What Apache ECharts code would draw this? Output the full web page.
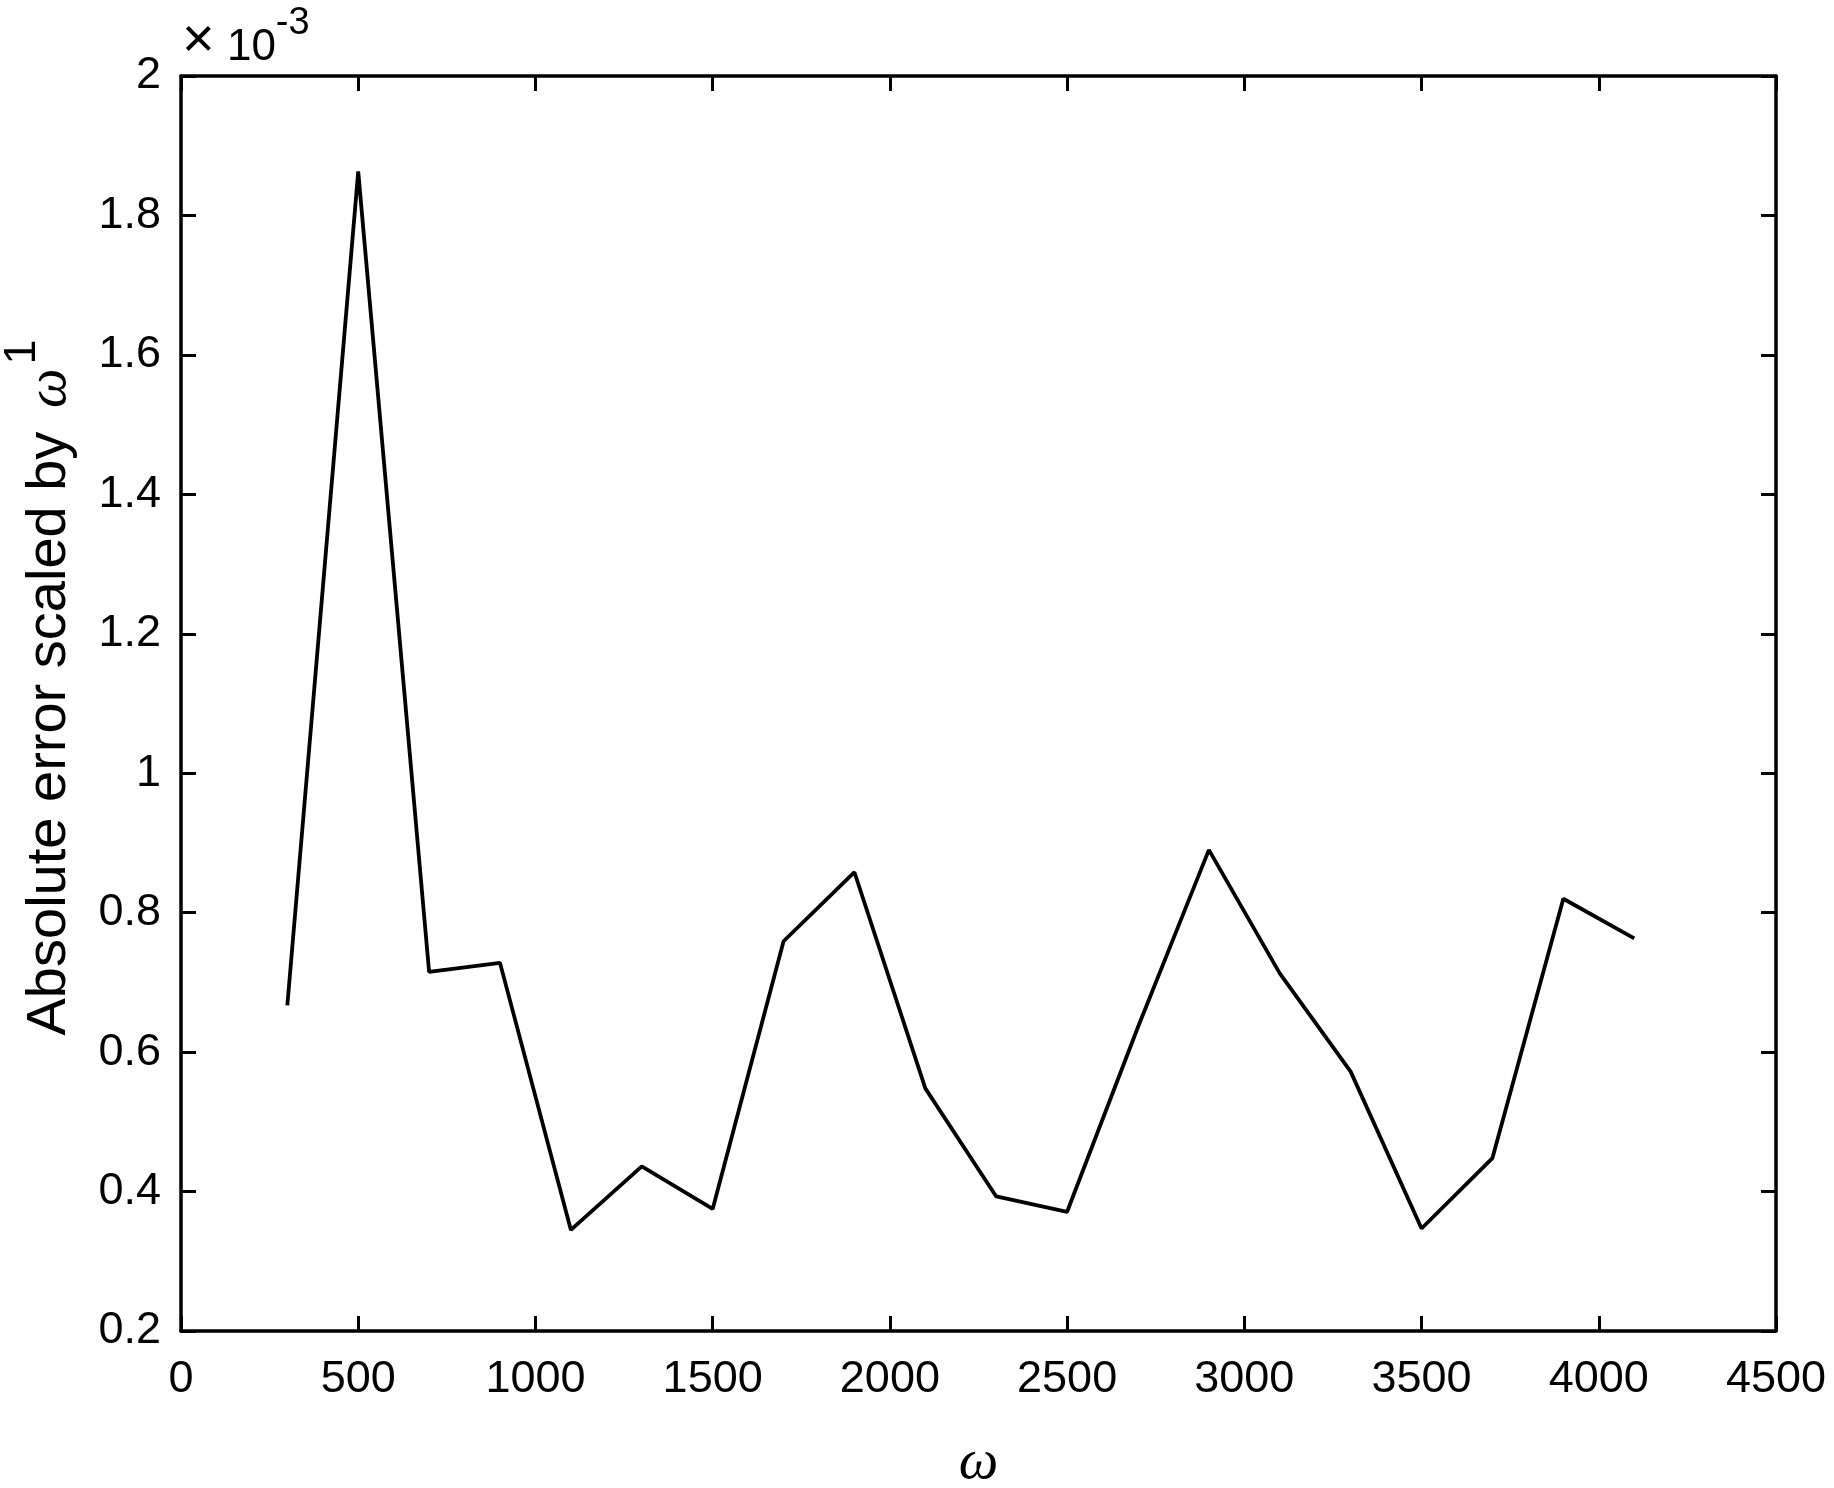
<!DOCTYPE html>
<html>
<head>
<meta charset="utf-8">
<script src="https://cdn.jsdelivr.net/npm/echarts@6/dist/echarts.min.js"></script>
<style>
  html, body { margin: 0; padding: 0; background: #fff; }
  #chart { width: 1834px; height: 1488px; }
</style>
</head>
<body>
<div id="chart"></div>
<script>
// omega values and absolute error (in units of 1e-3)
var omega = [300, 500, 700, 900, 1100, 1300, 1500, 1700, 1900, 2100,
             2300, 2500, 2700, 2900, 3100, 3300, 3500, 3700, 3900, 4100];
var absErr = [0.667, 1.863, 0.715, 0.728, 0.345, 0.436, 0.375, 0.759, 0.858, 0.548,
              0.393, 0.371, 0.636, 0.890, 0.713, 0.572, 0.347, 0.448, 0.820, 0.763];
var xTicks = [0, 4500, 500];   // min, max, step
var yTicks = [0.2, 2, 0.2];

var font = 'Liberation Sans';
var black = '#000';

var points = [];
for (var i = 0; i < omega.length; i++) {
  points.push([omega[i], absErr[i]]);
}

function line() {
  return { show: true, onZero: false, lineStyle: { color: black, width: 3.5 } };
}
function tick() {
  return { show: true, inside: true, length: 15, lineStyle: { color: black, width: 3 } };
}

var chart = echarts.init(document.getElementById('chart'));

chart.setOption({
  animation: false,
  backgroundColor: '#fff',
  title: {
    left: 182,
    top: 5,
    padding: 0,
    text: '{x|×}{a| 10}{b|-3}',
    textStyle: {
      fontWeight: 'normal',
      rich: {
        x: { fontFamily: font, fontWeight: 'normal', fontSize: 56, lineHeight: 60, color: black, verticalAlign: 'bottom' },
        a: { fontFamily: font, fontWeight: 'normal', fontSize: 44, lineHeight: 65, color: black, verticalAlign: 'bottom' },
        b: { fontFamily: font, fontWeight: 'normal', fontSize: 38, color: black, verticalAlign: 'top' }
      }
    }
  },
  grid: { left: 181, top: 76, right: 58, bottom: 157, outerBoundsMode: 'none', containLabel: false },
  xAxis: [
    {
      type: 'value', min: xTicks[0], max: xTicks[1], interval: xTicks[2],
      position: 'bottom',
      name: 'ω',
      nameLocation: 'middle',
      nameGap: 104,
      nameTextStyle: { fontFamily: 'Liberation Serif', fontStyle: 'italic', fontSize: 56, color: black },
      axisLine: line(),
      axisTick: tick(),
      splitLine: { show: false },
      axisLabel: {
        fontFamily: font, fontSize: 45, color: black, margin: 26,
        formatter: function (v) { return String(v); }
      }
    },
    {
      type: 'value', min: xTicks[0], max: xTicks[1], interval: xTicks[2],
      position: 'top',
      axisLine: line(),
      axisTick: tick(),
      splitLine: { show: false },
      axisLabel: { show: false }
    }
  ],
  yAxis: [
    {
      type: 'value', min: yTicks[0], max: yTicks[1], interval: yTicks[2],
      position: 'left',
      name: '{t|Absolute error scaled by }{w|ω}{s|1}',
      nameLocation: 'middle',
      nameGap: 103,
      nameTextStyle: {
        rich: {
          t: { fontFamily: font, fontSize: 56, lineHeight: 78, color: black, verticalAlign: 'bottom', padding: [0, 0, 0, 32] },
          w: { fontFamily: 'Liberation Serif', fontStyle: 'italic', fontSize: 56, lineHeight: 78, color: black, verticalAlign: 'bottom', padding: [0, 0, 0, 8] },
          s: { fontFamily: font, fontSize: 45, color: black, verticalAlign: 'top', padding: [0, 0, 0, 4] }
        }
      },
      axisLine: line(),
      axisTick: tick(),
      splitLine: { show: false },
      axisLabel: {
        fontFamily: font, fontSize: 45, color: black, margin: 20,
        formatter: function (v) { return String(+v.toFixed(1)); }
      }
    },
    {
      type: 'value', min: yTicks[0], max: yTicks[1], interval: yTicks[2],
      position: 'right',
      axisLine: line(),
      axisTick: tick(),
      splitLine: { show: false },
      axisLabel: { show: false }
    }
  ],
  series: [
    {
      type: 'line',
      data: points,
      showSymbol: false,
      symbol: 'none',
      lineStyle: { color: black, width: 3.8 }
    }
  ]
});
</script>
</body>
</html>
